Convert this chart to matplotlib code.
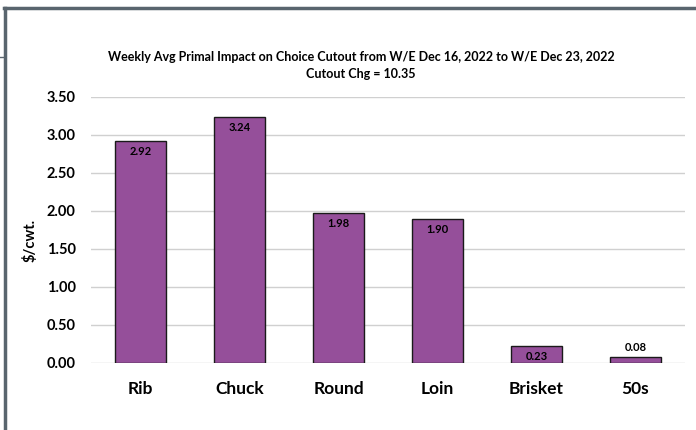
import matplotlib
matplotlib.use("Agg")
import matplotlib.pyplot as plt
from matplotlib.lines import Line2D

categories = ["Rib", "Chuck", "Round", "Loin", "Brisket", "50s"]
values = [2.92, 3.24, 1.98, 1.90, 0.23, 0.08]
yticks = [0.0, 0.5, 1.0, 1.5, 2.0, 2.5, 3.0, 3.5]

plt.rcParams['font.family'] = ['Lato', 'DejaVu Sans']

fig = plt.figure(figsize=(6.96, 4.30), dpi=100)
ax = fig.add_axes([91/696, 1-363/430, 594/696, 266/430])

x = list(range(len(categories)))
bars = ax.bar(x, values, width=0.52, color="#954F9A", edgecolor="#1a1a1a", linewidth=1.0, zorder=3)
ax.set_xlim(-0.5, len(categories)-0.5)
ax.set_ylim(0, 3.5)
ax.set_yticks(yticks)
ax.set_yticklabels([f"{v:.2f}" for v in yticks], fontsize=10.5, fontweight="bold")
ax.set_xticks(x)
ax.set_xticklabels(categories, fontsize=12.5, fontweight="bold")
ax.tick_params(axis="both", length=0)
ax.tick_params(axis="y", pad=11)
ax.tick_params(axis="x", pad=13)
ax.grid(axis="y", color="#d0d0d0", linewidth=1.0, zorder=0)
for s in ax.spines.values():
    s.set_visible(False)

for xi, v in zip(x, values):
    if v > 0.15:
        ax.text(xi, v - 0.07, f"{v:.2f}", ha="center", va="top", fontsize=8, fontweight="bold", zorder=4)
    else:
        ax.text(xi, v + 0.05, f"{v:.2f}", ha="center", va="bottom", fontsize=8, fontweight="bold", zorder=4)

fig.text(30/696, 1-240/430, "$/cwt.", rotation=90, ha="center", va="center", fontsize=10.5, fontweight="bold")

fig.text(361/696, 1-57/430, "Weekly Avg Primal Impact on Choice Cutout from W/E Dec 16, 2022 to W/E Dec 23, 2022",
         ha="center", va="center", fontsize=9, fontweight="bold")
fig.text(361/696, 1-74/430, "Cutout Chg = 10.35", ha="center", va="center", fontsize=9, fontweight="bold")

# outer frame
fc = "#59656e"
fig.add_artist(Line2D([4/696, 1], [1-8/430, 1-8/430], color=fc, linewidth=2.5, transform=fig.transFigure))
fig.add_artist(Line2D([5/696, 5/696], [0, 1-8/430], color=fc, linewidth=2.5, transform=fig.transFigure))
fig.add_artist(Line2D([0, 3/696], [1-57/430, 1-57/430], color=fc, linewidth=1.0, transform=fig.transFigure))

fig.savefig("out.png", dpi=100)
